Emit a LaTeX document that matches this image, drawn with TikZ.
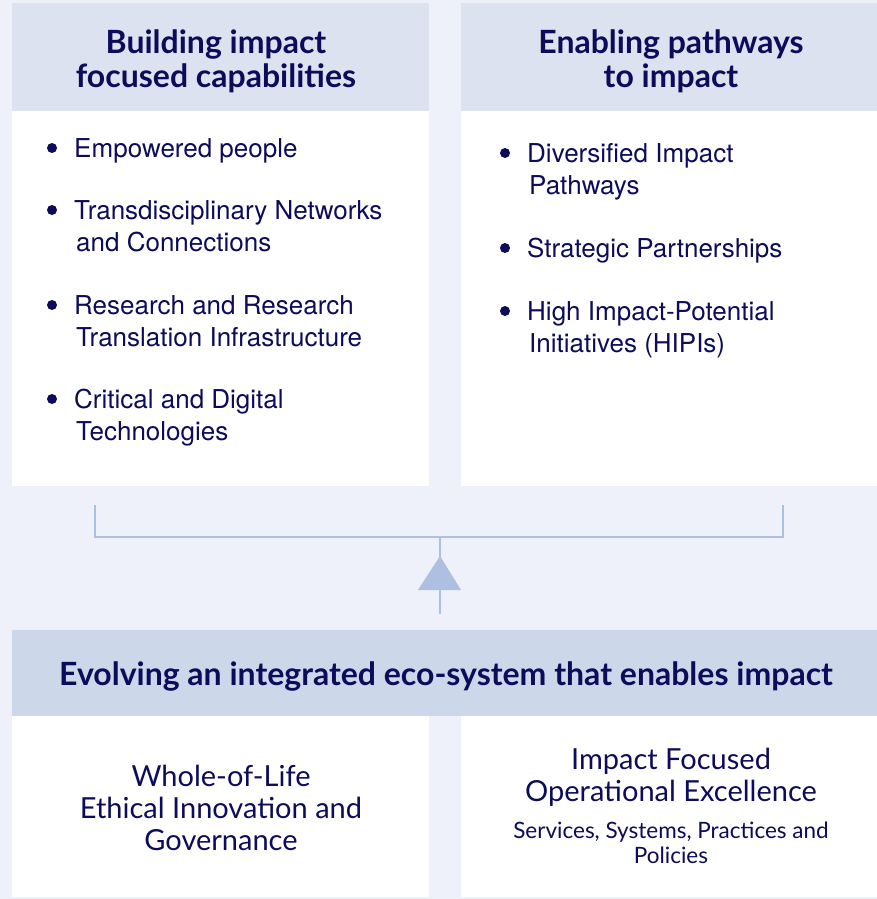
\documentclass[tikz,border=0pt]{standalone}
\usepackage{fontspec}
\setmainfont{Lato}
\newfontfamily\listfont{TeX Gyre Heros}
\usetikzlibrary{positioning}

\definecolor{navy}{RGB}{12,12,90}
\definecolor{pagebg}{RGB}{238,241,249}
\definecolor{headbg}{RGB}{220,226,239}
\definecolor{basebg}{RGB}{205,215,234}
\definecolor{linkblue}{RGB}{174,192,225}

\tikzset{
  headbox/.style={fill=headbg, inner sep=0pt, minimum height=108pt, text=navy,
    align=center, font=\fontsize{32}{34}\selectfont\bfseries},
  bodybox/.style={fill=white, inner sep=0pt, text=navy, align=center,
    font=\fontsize{29}{32}\selectfont},
  item/.style={anchor=west, inner sep=0pt, yshift=-3pt, text=navy, align=left,
    font=\listfont\fontsize{26}{32}\selectfont},
  dot/.style={circle, fill=navy, inner sep=0pt, minimum size=10pt},
  link/.style={draw=linkblue, line width=2pt}
}

\begin{document}
\begin{tikzpicture}[x=1pt,y=-1pt]
  \fill[pagebg] (0,0) rectangle (877,899);

  % top row
  \node [headbox, minimum width=417pt] (capHead) at (220.5,57) {};
  \node [bodybox, minimum width=417pt, minimum height=375pt, below=0pt of capHead] (capBody) {};
  \node [headbox, minimum width=416pt] (pathHead) at (669,57) {};
  \node [bodybox, minimum width=416pt, minimum height=375pt, below=0pt of pathHead] (pathBody) {};
  \node [headbox, fill=none, minimum height=0pt] (capTitle) at (216,61.5) {Building impact\\focused capabilities};
  \node [headbox, fill=none, minimum height=0pt] (pathTitle) at (671,61.5) {Enabling pathways\\to impact};

  % capabilities list
  \node [dot] (capDot1) at (52,148) {};
  \node [item] (cap1) at (74,148) {\strut Empowered people};
  \node [dot] (capDot2) at (52,210) {};
  \node [item] (cap2) at (74,226) {\strut Transdisciplinary Networks\\\hspace*{2pt}and Connections\strut};
  \node [dot] (capDot3) at (52,305) {};
  \node [item] (cap3) at (74,321) {\strut Research and Research\\\hspace*{2pt}Translation Infrastructure\strut};
  \node [dot] (capDot4) at (52,399) {};
  \node [item] (cap4) at (74,415) {\strut Critical and Digital\\\hspace*{2pt}Technologies\strut};

  % pathways list
  \node [dot] (pathDot1) at (505,153) {};
  \node [item] (path1) at (527,169) {\strut Diversified Impact\\\hspace*{2pt}Pathways\strut};
  \node [dot] (pathDot2) at (505,248) {};
  \node [item] (path2) at (527,248) {\strut Strategic Partnerships};
  \node [dot] (pathDot3) at (505,311) {};
  \node [item] (path3) at (527,327) {\strut High Impact-Potential\\\hspace*{2pt}Initiatives (HIPIs)\strut};

  % bracket and arrow
  \coordinate (brkL) at (95,505);
  \coordinate (brkR) at (783,505);
  \coordinate (brkM) at (440,537);
  \coordinate (stemFoot) at (440,614);
  \draw [link] (brkL) |- (brkR |- brkM) -- (brkR);
  \draw [link] (stemFoot) -- (brkM);
  \fill [linkblue] (418,590) -- (440,556) -- (461,590) -- cycle;

  % base row
  \node [headbox, fill=basebg, minimum width=865pt, minimum height=86pt] (ecoHead) at (444.5,673) {};
  \node [headbox, fill=none, minimum height=0pt] (ecoTitle) at (446,676)
    {Evolving an integrated eco-system that enables impact};
  \node [bodybox, minimum width=417pt, minimum height=181pt] (lifeBody) at (220.5,806.5) {};
  \node [bodybox, fill=none] (lifeTitle) at (221,808)
    {Whole-of-Life\\Ethical Innovation and\\Governance};
  \node [bodybox, minimum width=416pt, minimum height=181pt] (opsBody) at (669,806.5) {};
  \node [bodybox, fill=none] (opsTitle) at (671,777.5) {Impact Focused\\Operational Excellence};
  \node [bodybox, fill=none, font=\fontsize{22.5}{25}\selectfont] (opsSub) at (671,843)
    {Services, Systems, Practices and\\Policies};
\end{tikzpicture}
\end{document}
